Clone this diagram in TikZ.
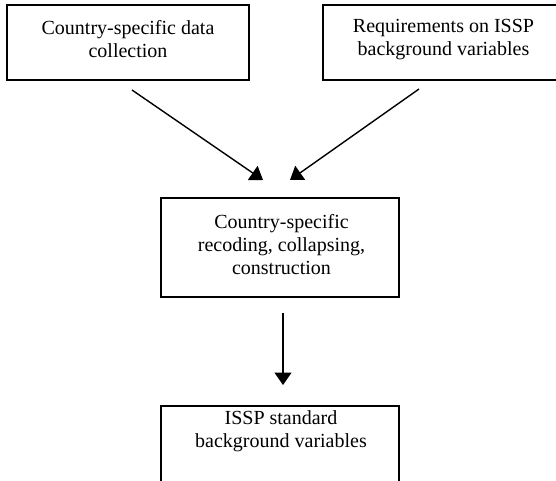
\documentclass[tikz,border=0pt]{standalone}
\usepackage{fontspec}
\setmainfont{Liberation Serif}
\usetikzlibrary{arrows.meta}
\begin{document}
\begin{tikzpicture}[x=1pt,y=-1pt,
  box/.style={draw=black,line width=1.6pt,minimum width=#1,inner sep=0pt,outer sep=0pt},
  lbl/.style={align=center,inner sep=0pt,font=\fontsize{20}{23}\selectfont},
  conn/.style={draw=black,line width=1.4pt,-{Triangle[length=12.5pt,width=17pt]}}]
\useasboundingbox (0,0) rectangle (556,480);
\clip (0,0) rectangle (556,480);
% boxes
\node[box=242pt,minimum height=75pt] (b1) at (128,42.5) {};
\node[box=241pt,minimum height=75pt] (b2) at (443.5,42.5) {};
\node[box=238pt,minimum height=99pt] (b3) at (280,247.5) {};
\node[box=238pt,minimum height=75.5pt] (b4) at (280,443.75) {};
% texts
\node[lbl] (t1) at (128,39.5) {Country-specific data\\collection};
\node[lbl] (t2) at (443.5,39.5) {Requirements on ISSP\\background variables};
\node[lbl] (t3) at (281.5,245) {Country-specific\\recoding, collapsing,\\construction};
\node[lbl] (t4) at (281,431) {ISSP standard\\background variables};
% connector end points
\coordinate (a1s) at (132,90);
\coordinate (a1e) at (263,180);
\coordinate (a2s) at (419,89);
\coordinate (a2e) at (290,180);
\coordinate (a3s) at (283,313);
\coordinate (a3e) at (283,385);
\draw[conn] (a1s) -- (a1e);
\draw[conn] (a2s) -- (a2e);
\draw[conn] (a3s) -- (a3e);
\end{tikzpicture}
\end{document}
